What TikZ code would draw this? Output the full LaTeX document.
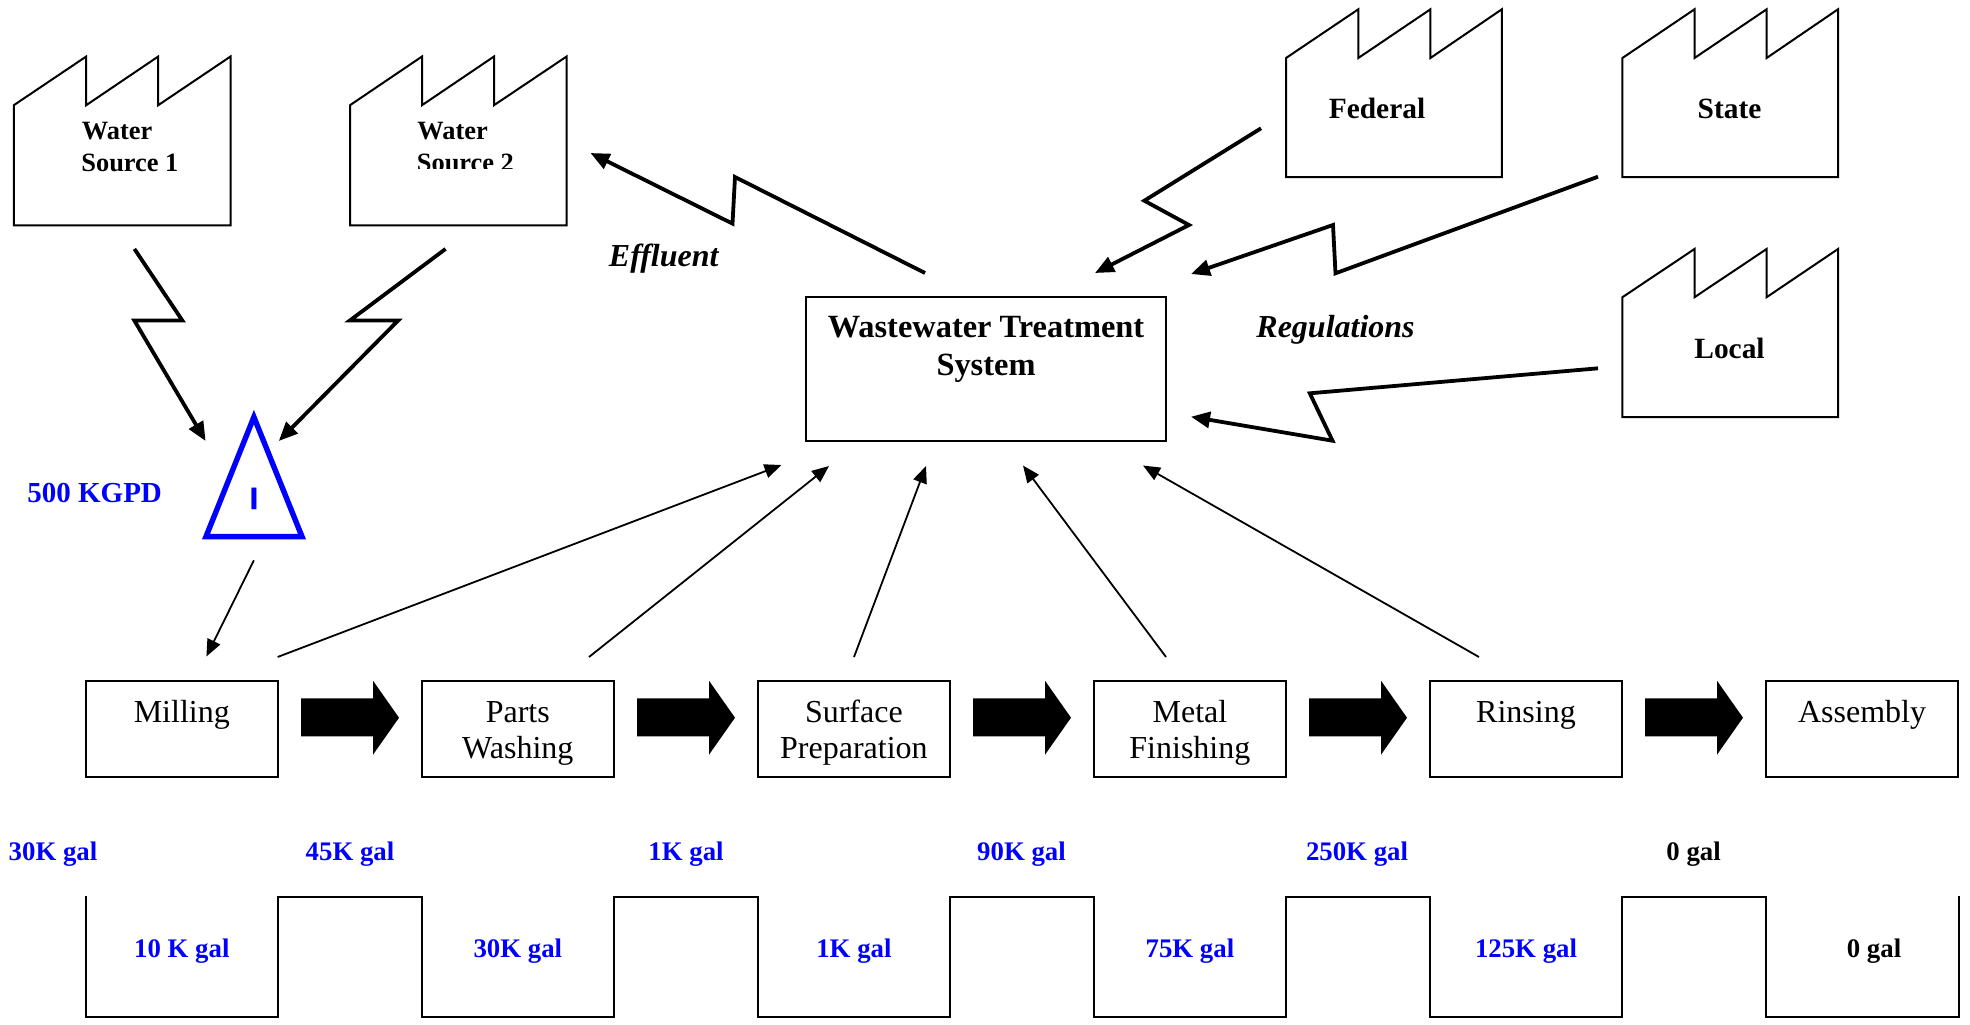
\documentclass[tikz,border=0pt]{standalone}
\usepackage{fontspec}
\setmainfont{Liberation Serif}
\newfontfamily\trifont[BoldFeatures={FakeBold=1.2}]{Liberation Sans}
\usetikzlibrary{arrows.meta}
\definecolor{flowblue}{RGB}{0,0,255}
\tikzset{
  x=0.5pt,y=-0.5pt,
  boxline/.style={draw=black,line width=1pt,line join=miter},
  procbox/.style={boxline,fill=none,minimum width=96.25pt,minimum height=48pt,inner sep=0pt},
  wwtbox/.style={boxline,minimum width=180.25pt,minimum height=72pt,inner sep=0pt},
  bolt/.style={line width=1.9pt,line join=miter,-{Triangle[length=9.5pt,width=8pt]}},
  thin arrow/.style={line width=0.9pt,-{Triangle[length=8.5pt,width=7pt]}},
  proclabel/.style={inner sep=0pt,anchor=base,font=\fontsize{16}{16}\selectfont},
  sitelabel/.style={inner sep=0pt,anchor=base west,font=\fontsize{13.2}{13.2}\selectfont\bfseries},
  authlabel/.style={inner sep=0pt,anchor=base,font=\fontsize{14.7}{14.7}\selectfont\bfseries},
  noteb/.style={inner sep=0pt,anchor=base,font=\fontsize{16.2}{16.2}\selectfont\bfseries},
  flowi/.style={inner sep=0pt,anchor=base west,font=\fontsize{16}{16}\selectfont\bfseries\itshape},
  gallabel/.style={inner sep=0pt,anchor=base,font=\fontsize{13.4}{13.4}\selectfont\bfseries,text=flowblue},
  gallabelk/.style={inner sep=0pt,anchor=base,font=\fontsize{13.4}{13.4}\selectfont\bfseries,text=black},
  blockarrow/.style={fill=black,draw=none},
}
\begin{document}
\begin{tikzpicture}
\useasboundingbox (0,0) rectangle (1970,1024);

% factories
\draw[boxline] (13.8,225.4) -- (13.8,105.2) -- (86.2,56.5) -- (86.2,105.2) -- (158.2,56.5) -- (158.2,105.2) -- (230.5,56.5) -- (230.5,225.4) -- cycle;
\draw[boxline] (350,225.4) -- (350,105.2) -- (422,56.5) -- (422,105.2) -- (494,56.5) -- (494,105.2) -- (566.6,56.5) -- (566.6,225.4) -- cycle;
\draw[boxline] (1286,177.2) -- (1286,58) -- (1358.3,9.3) -- (1358.3,58) -- (1430.4,9.3) -- (1430.4,58) -- (1501.8,9.3) -- (1501.8,177.2) -- cycle;
\draw[boxline] (1622.4,177.2) -- (1622.4,58) -- (1694.5,9.3) -- (1694.5,58) -- (1766.6,9.3) -- (1766.6,58) -- (1838,9.3) -- (1838,177.2) -- cycle;
\draw[boxline] (1622.4,417.2) -- (1622.4,297.2) -- (1694.5,249) -- (1694.5,297.2) -- (1766.6,249) -- (1766.6,297.2) -- (1838,249) -- (1838,417.2) -- cycle;

\node[sitelabel] (ws1a) at (81.5,139.4) {Water};
\node[sitelabel] (ws1b) at (81,171) {Source 1};
\node[sitelabel] (ws2a) at (417,139.4) {Water};
\begin{scope}
  \clip (400,145) rectangle (540,168);
  \node[sitelabel] (ws2b) at (416.5,171) {Source 2};
\end{scope}
\node[authlabel] (fed) at (1377,118.5) {Federal};
\node[authlabel] (sta) at (1729.5,118.5) {State};
\node[authlabel] (loc) at (1729.5,358.8) {Local};

% wastewater box
\node[wwtbox] (wwt) at (986,369) {};
\node[noteb] (wwta) at (986,337.2) {Wastewater Treatment};
\node[noteb] (wwtb) at (986,375.2) {System};
\node[flowi] (reg) at (1256,337.8) {Regulations};
\node[flowi] (eff) at (608.5,266) {Effluent};

% inventory triangle
\coordinate (triA) at (253.9,417);
\coordinate (triL) at (206,536.6);
\coordinate (triR) at (302,536.6);
\draw[draw=flowblue,line width=2.7pt,miter limit=10] (triA) -- (triR) -- (triL) -- cycle;
\node[inner sep=0pt,anchor=base,text=flowblue,font=\fontsize{15.4}{15.4}\selectfont\trifont\bfseries] (tri) at (253.9,509) {I};
\node[inner sep=0pt,anchor=base west,text=flowblue,font=\fontsize{14.5}{14.5}\selectfont\bfseries] (kgpd) at (27,502.5) {500 KGPD};

% process boxes
\node[procbox] (mill) at (181.8,729) {};
\node[procbox] (wash) at (517.8,729) {};
\node[procbox] (surf) at (853.9,729) {};
\node[procbox] (metal) at (1189.9,729) {};
\node[procbox] (rinse) at (1526,729) {};
\node[procbox] (assy) at (1862.1,729) {};
\node[proclabel] at (181.8,722) {Milling};
\node[proclabel] at (517.8,722) {Parts};
\node[proclabel] at (517.8,758.5) {Washing};
\node[proclabel] at (853.9,722) {Surface};
\node[proclabel] at (853.9,758.5) {Preparation};
\node[proclabel] at (1189.9,722) {Metal};
\node[proclabel] at (1189.9,758.5) {Finishing};
\node[proclabel] at (1526,722) {Rinsing};
\node[proclabel] at (1862.1,722) {Assembly};

% block arrows
\foreach \dx in {0,336,672,1008,1344,1680}{
  \fill[blockarrow,shift={(\dx,0)}] (301,698.4) -- (373,698.4) -- (373,680.7) -- (399,717.7) -- (373,754.7) -- (373,736.4) -- (301,736.4) -- cycle;
}

% lightning connectors
\coordinate (a1) at (134.4,248.9); \coordinate (a2) at (182.3,320.4); \coordinate (a3) at (134.4,320.6); \coordinate (a4) at (205.6,441);
\draw[bolt] (a1) -- (a2) -- (a3) -- (a4);
\coordinate (b1) at (445.6,248.9); \coordinate (b2) at (350,320.4); \coordinate (b3) at (398,320.6); \coordinate (b4) at (278.8,441);
\draw[bolt] (b1) -- (b2) -- (b3) -- (b4);
\coordinate (e1) at (925,273); \coordinate (e2) at (735,177); \coordinate (e3) at (732.5,223.6); \coordinate (e4) at (590.5,153);
\draw[bolt] (e1) -- (e2) -- (e3) -- (e4);
\coordinate (f1) at (1261,128.3); \coordinate (f2) at (1144.3,200.7); \coordinate (f3) at (1189,225); \coordinate (f4) at (1095,273);
\draw[bolt] (f1) -- (f2) -- (f3) -- (f4);
\coordinate (s1) at (1598,176.7); \coordinate (s2) at (1335.5,273.3); \coordinate (s3) at (1333,225); \coordinate (s4) at (1191,274);
\draw[bolt] (s1) -- (s2) -- (s3) -- (s4);
\coordinate (l1) at (1598,368.3); \coordinate (l2) at (1309.8,393.3); \coordinate (l3) at (1332.5,440.7); \coordinate (l4) at (1191,416.7);
\draw[bolt] (l1) -- (l2) -- (l3) -- (l4);

% thin arrows
\coordinate (t1) at (253.9,560.3); \coordinate (t2) at (206.4,656.5);
\draw[thin arrow] (t1) -- (t2);
\coordinate (m1) at (277.6,657); \coordinate (m2) at (781.5,465);
\draw[thin arrow] (m1) -- (m2);
\coordinate (w1) at (589,657); \coordinate (w2) at (829,466);
\draw[thin arrow] (w1) -- (w2);
\coordinate (u1) at (854,657); \coordinate (u2) at (926,466);
\draw[thin arrow] (u1) -- (u2);
\coordinate (n1) at (1166,657); \coordinate (n2) at (1023,465.5);
\draw[thin arrow] (n1) -- (n2);
\coordinate (r1) at (1479,657); \coordinate (r2) at (1143,465.5);
\draw[thin arrow] (r1) -- (r2);

% timeline gallons
\node[gallabel] at (53,860.5) {30K gal};
\node[gallabel] at (350,860.5) {45K gal};
\node[gallabel] at (686,860.5) {1K gal};
\node[gallabel] at (1021.5,860.5) {90K gal};
\node[gallabel] at (1357,860.5) {250K gal};
\node[gallabelk] at (1693.6,860.5) {0 gal};

% timeline wave
\draw[boxline] (85.5,896) -- (85.5,1017.3) -- (278,1017.3) -- (278,897) -- (421.6,897) -- (421.6,1017.3) -- (614,1017.3) -- (614,897) -- (757.7,897) -- (757.7,1017.3) -- (950.3,1017.3) -- (950.3,897) -- (1093.7,897) -- (1093.7,1017.3) -- (1286.2,1017.3) -- (1286.2,897) -- (1429.8,897) -- (1429.8,1017.3) -- (1622.3,1017.3) -- (1622.3,897) -- (1765.8,897) -- (1765.8,1017.3) -- (1958.5,1017.3) -- (1958.5,896);

\node[gallabel] at (181.8,957.2) {10 K gal};
\node[gallabel] at (517.8,957.2) {30K gal};
\node[gallabel] at (853.9,957.2) {1K gal};
\node[gallabel] at (1189.9,957.2) {75K gal};
\node[gallabel] at (1526,957.2) {125K gal};
\node[gallabelk] at (1874,957.2) {0 gal};
\end{tikzpicture}
\end{document}
